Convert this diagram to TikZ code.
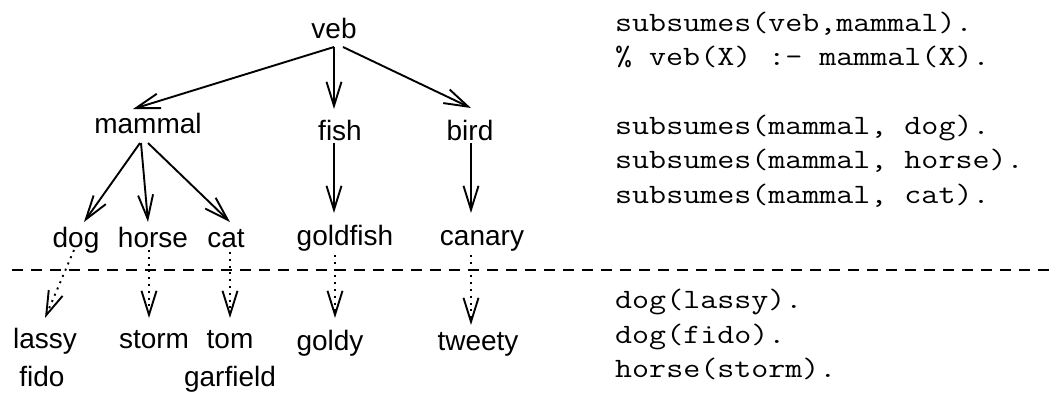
\documentclass[tikz,border=0pt]{standalone}
\usepackage{fontspec}
\setmainfont{Liberation Sans}
\usepackage{graphicx}
\usetikzlibrary{arrows.meta}
\tikzset{
  lbl/.style={anchor=base, inner sep=0pt, font=\fontsize{28}{30}\selectfont},
  code/.style={anchor=base west, inner sep=0pt, font=\fontsize{28}{30}\selectfont\ttfamily},
  arr/.style={line width=1.9pt, -{Straight Barb[length=24pt,width=15pt]}},
  dotarr/.style={arr, dash pattern=on 2pt off 4.8pt},
  sepline/.style={line width=2pt, dash pattern=on 11pt off 8pt}
}
\newcommand{\codeline}[1]{\scalebox{1.18}[1]{#1}}
\begin{document}
\begin{tikzpicture}[x=1pt,y=-1pt]
\useasboundingbox[fill=white] (0,0) rectangle (1051,392);
% tree nodes
\node[lbl] (veb) at (334,38) {veb};
\node[lbl] (mammal) at (148,133) {mammal};
\node[lbl] (fish) at (340,140) {fish};
\node[lbl] (bird) at (470,140) {bird};
\node[lbl] (dog) at (76,247) {dog};
\node[lbl] (horse) at (153,247) {horse};
\node[lbl] (cat) at (226,247) {cat};
\node[lbl] (goldfish) at (345,245) {goldfish};
\node[lbl] (canary) at (482,245) {canary};
\node[lbl] (lassy) at (45,348) {lassy};
\node[lbl] (storm) at (154,348) {storm};
\node[lbl] (tom) at (230,348) {tom};
\node[lbl] (goldy) at (330,350) {goldy};
\node[lbl] (tweety) at (478,350) {tweety};
\node[lbl] (fido) at (42,386) {fido};
\node[lbl] (garfield) at (230,386) {garfield};
% solid arrows
\draw[arr] ([yshift=-9pt]veb.base) -- ([xshift=-15pt,yshift=24pt]mammal.base);
\draw[arr] ([yshift=-9pt]veb.base) -- ([xshift=-6pt,yshift=31pt]fish.base);
\draw[arr] ([xshift=9pt,yshift=-9pt]veb.base) -- ([xshift=1pt,yshift=32pt]bird.base);
\draw[arr] ([xshift=-8pt,yshift=-10pt]mammal.base) -- ([xshift=8pt,yshift=25pt]dog.base);
\draw[arr] ([xshift=-7pt,yshift=-10pt]mammal.base) -- ([xshift=-5pt,yshift=25pt]horse.base);
\draw[arr] ([yshift=-10pt]mammal.base) -- ([xshift=4pt,yshift=25pt]cat.base);
\draw[arr] ([xshift=-6pt,yshift=-3pt]fish.base) -- ([xshift=-11pt,yshift=32pt]goldfish.base);
\draw[arr] ([xshift=1pt,yshift=-3pt]bird.base) -- ([xshift=-11pt,yshift=32pt]canary.base);
% separator
\coordinate (sepL) at (12,269.5);
\coordinate (sepR) at (1058,269.5);
\draw[sepline] (sepL) -- (sepR);
% dotted arrows
\draw[dotarr] ([xshift=-2pt,yshift=-3pt]dog.base) -- ([yshift=30pt]lassy.base);
\draw[dotarr] ([xshift=-4pt,yshift=-3pt]horse.base) -- ([xshift=-5pt,yshift=30pt]storm.base);
\draw[dotarr] ([xshift=4pt,yshift=-5pt]cat.base) -- ([yshift=30pt]tom.base);
\draw[dotarr] ([xshift=-10pt,yshift=-10pt]goldfish.base) -- ([xshift=5pt,yshift=32pt]goldy.base);
\draw[dotarr] ([xshift=-11pt,yshift=-10pt]canary.base) -- ([xshift=-7pt,yshift=25pt]tweety.base);
% code
\node[code] (c1) at (615,31) {\codeline{subsumes(veb,mammal).}};
\node[code] (c2) at (615,65) {\codeline{\% veb(X) :- mammal(X).}};
\node[code] (c3) at (615,134) {\codeline{subsumes(mammal, dog).}};
\node[code] (c4) at (615,168) {\codeline{subsumes(mammal, horse).}};
\node[code] (c5) at (615,203) {\codeline{subsumes(mammal, cat).}};
\node[code] (c6) at (615,308) {\codeline{dog(lassy).}};
\node[code] (c7) at (615,343) {\codeline{dog(fido).}};
\node[code] (c8) at (615,377) {\codeline{horse(storm).}};
\end{tikzpicture}
\end{document}
